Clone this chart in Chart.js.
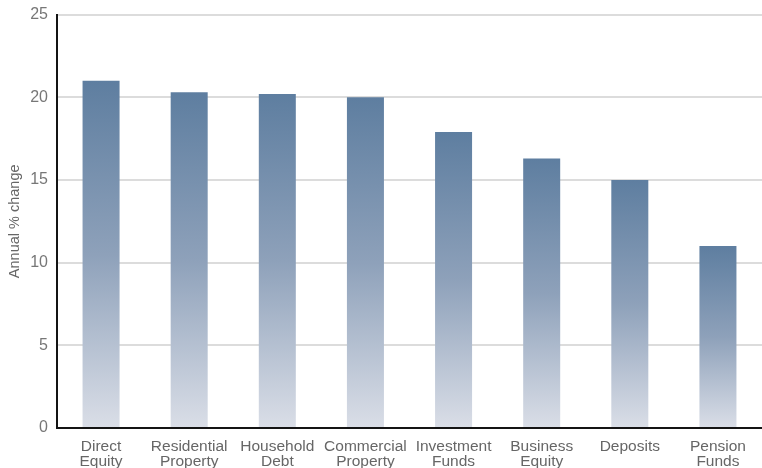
<!DOCTYPE html>
<html>
<head>
<meta charset="utf-8">
<script src="https://cdn.jsdelivr.net/npm/chart.js@4.4.1/dist/chart.umd.min.js"></script>
<style>
  html, body { margin: 0; padding: 0; background: #fff; overflow: hidden; }
  #wrap { width: 762px; height: 468px; }
</style>
</head>
<body>
<div id="wrap"><canvas id="chart"></canvas></div>
<script>
// categories (two-line labels) and annual % change per asset class
const categories = [
    ['Direct', 'Equity'],
    ['Residential', 'Property'],
    ['Household', 'Debt'],
    ['Commercial', 'Property'],
    ['Investment', 'Funds'],
    ['Business', 'Equity'],
    ['Deposits'],
    ['Pension', 'Funds']
];
const annualChange = [21.0, 20.3, 20.2, 20.0, 17.9, 16.3, 15.0, 11.0];
const yTicks = [0, 5, 10, 15, 20, 25];

const FONT = '"Liberation Sans", Arial, sans-serif';

// each bar fades from steel blue at its top down to pale grey at zero
function barGradient(context) {
    const chart = context.chart;
    const area = chart.chartArea;
    if (!area || context.parsed == null) return '#7f97b3';
    const y = chart.scales.y;
    const top = y.getPixelForValue(context.parsed.y);
    const bottom = y.getPixelForValue(0);
    const g = chart.ctx.createLinearGradient(0, top, 0, bottom);
    g.addColorStop(0, '#5e7ea0');
    g.addColorStop(0.5, '#8ea1ba');
    g.addColorStop(1, '#dadee7');
    return g;
}

new Chart(document.getElementById('chart'), {
    type: 'bar',
    data: {
        labels: categories,
        datasets: [{
            data: annualChange,
            backgroundColor: barGradient,
            borderWidth: 0,
            barPercentage: 0.42,
            categoryPercentage: 1.0
        }]
    },
    options: {
        responsive: true,
        maintainAspectRatio: false,
        animation: false,
        layout: { padding: { top: 0, right: 0, left: 0, bottom: 0 } },
        plugins: {
            legend: { display: false },
            tooltip: { enabled: false }
        },
        scales: {
            x: {
                grid: { display: false, drawTicks: false },
                border: { display: true, color: '#141414', width: 2 },
                ticks: {
                    color: '#666',
                    padding: 11,
                    maxRotation: 0,
                    autoSkip: false,
                    font: { family: FONT, size: 15.5, lineHeight: 0.98 }
                },
                afterFit: s => { s.height = 40; }
            },
            y: {
                min: 0,
                max: 25,
                afterBuildTicks: s => { s.ticks = yTicks.map(v => ({ value: v })); },
                grid: { color: '#dcdcdc', lineWidth: 2, drawTicks: false },
                border: { display: true, color: '#141414', width: 2 },
                ticks: {
                    color: '#777',
                    padding: 9,
                    font: { family: FONT, size: 16, lineHeight: 0.7 }
                },
                title: {
                    display: true,
                    text: 'Annual % change',
                    color: '#666',
                    padding: { top: 6, bottom: 0 },
                    font: { family: FONT, size: 14.5 }
                },
                afterFit: s => { s.width = 57; }
            }
        }
    }
});
</script>
</body>
</html>
